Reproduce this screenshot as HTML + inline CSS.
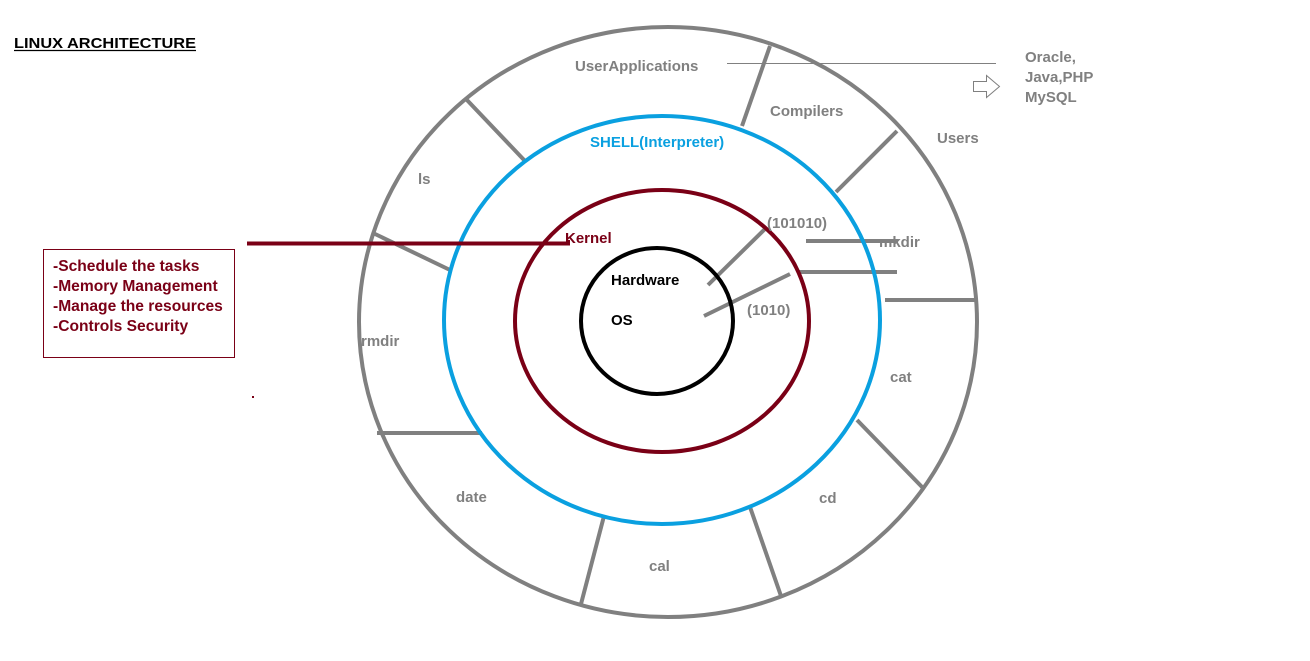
<!DOCTYPE html>
<html><head><meta charset="utf-8"><style>
html,body{margin:0;padding:0;background:#fff;}
svg{display:block;font-family:"Liberation Sans",Arial,sans-serif;}
</style></head><body>
<svg width="1310" height="661" viewBox="0 0 1310 661">
<rect width="1310" height="661" fill="#fff"/>
<text x="14" y="48" font-size="15" font-weight="bold" fill="#000" textLength="182" lengthAdjust="spacingAndGlyphs">LINUX ARCHITECTURE</text>
<line x1="14" y1="50.5" x2="196" y2="50.5" stroke="#000" stroke-width="1.2"/>

<g>
<ellipse cx="668" cy="322" rx="309" ry="295" fill="none" stroke="#808080" stroke-width="4"/>
</g>
<g stroke="#808080" stroke-width="4">
<line x1="770" y1="46" x2="742" y2="126"/>
<line x1="466" y1="99" x2="525" y2="161"/>
<line x1="897" y1="131" x2="836" y2="192"/>
<line x1="373" y1="233" x2="450" y2="270"/>
<line x1="885" y1="300" x2="977" y2="300"/>
<line x1="377" y1="433" x2="482" y2="433"/>
<line x1="857" y1="420" x2="923" y2="488"/>
<line x1="604" y1="516" x2="581" y2="604"/>
<line x1="750" y1="507" x2="781" y2="596"/>
<line x1="806" y1="241" x2="898" y2="241"/>
<line x1="798" y1="272" x2="897" y2="272"/>
<line x1="708" y1="285" x2="767" y2="227"/>
<line x1="704" y1="316" x2="790" y2="274"/>
</g>
<ellipse cx="662" cy="320" rx="218" ry="204" fill="none" stroke="#0aa0e0" stroke-width="4"/>
<ellipse cx="662" cy="321" rx="147" ry="131" fill="none" stroke="#7a0016" stroke-width="4"/>
<ellipse cx="657" cy="321" rx="76" ry="73" fill="none" stroke="#000" stroke-width="4"/>

<line x1="727" y1="63.5" x2="996" y2="63.5" stroke="#808080" stroke-width="1"/>
<path d="M973.5 81.5 H986.5 V75.5 L999.5 86.5 L986.5 97.5 V91.5 H973.5 Z" fill="#fff" stroke="#808080" stroke-width="1"/>

<g font-size="15" font-weight="bold" fill="#808080">
<text x="575" y="71">UserApplications</text>
<text x="770" y="116">Compilers</text>
<text x="937" y="143">Users</text>
<text x="418" y="184">ls</text>
<text x="879" y="247">mkdir</text>
<text x="361" y="346">rmdir</text>
<text x="890" y="382">cat</text>
<text x="456" y="502">date</text>
<text x="819" y="503">cd</text>
<text x="649" y="571">cal</text>
<text x="767" y="228">(101010)</text>
<text x="747" y="315">(1010)</text>
<text x="1025" y="62">Oracle,</text>
<text x="1025" y="82">Java,PHP</text>
<text x="1025" y="102">MySQL</text>
</g>
<text x="590" y="147" font-size="15" font-weight="bold" fill="#0aa0e0">SHELL(Interpreter)</text>
<text x="565" y="243" font-size="15" font-weight="bold" fill="#7a0016">Kernel</text>
<text x="611" y="285" font-size="15" font-weight="bold" fill="#000">Hardware</text>
<text x="611" y="325" font-size="15" font-weight="bold" fill="#000">OS</text>

<path d="M247 243.5 H568 V240" fill="none" stroke="#7a0016" stroke-width="4"/>
<rect x="43.5" y="249.5" width="191" height="108" fill="#fff" stroke="#7a0016" stroke-width="1"/>
<g font-size="15.6" font-weight="bold" fill="#7a0016">
<text x="53" y="271">-Schedule the tasks</text>
<text x="53" y="291">-Memory Management</text>
<text x="53" y="311">-Manage the resources</text>
<text x="53" y="331">-Controls Security</text>
</g>
<rect x="252" y="396" width="2" height="2" fill="#7a0016"/>
</svg>
</body></html>
